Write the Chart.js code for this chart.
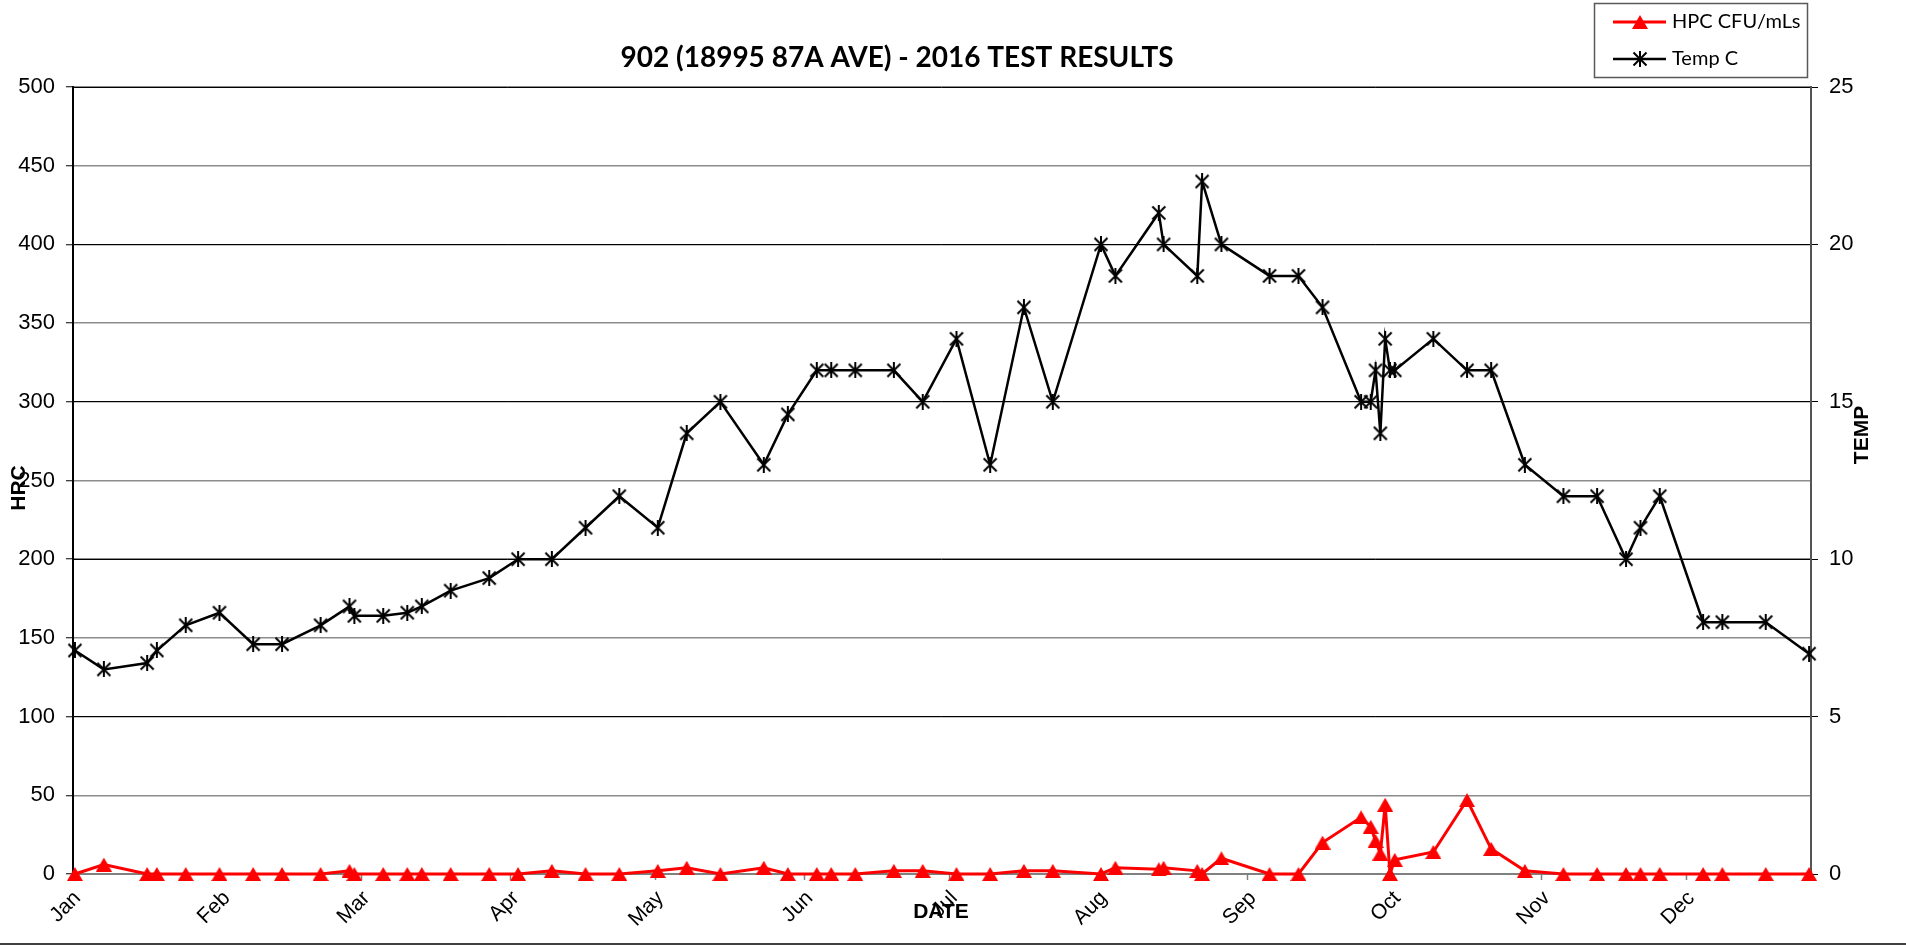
<!DOCTYPE html>
<html>
<head>
<meta charset="utf-8">
<script src="https://cdn.jsdelivr.net/npm/chart.js@4.4.0/dist/chart.umd.min.js"></script>
<style>
html,body{margin:0;padding:0;background:#fff;overflow:hidden}
canvas{display:block}
</style>
</head>
<body>
<canvas id="c" width="1906" height="948"></canvas>
<script>
// ---- data ----
const sampleDates = ['2016-01-01','2016-01-07','2016-01-16','2016-01-18','2016-01-24','2016-01-31','2016-02-07','2016-02-13','2016-02-21','2016-02-27',
  '2016-02-28','2016-03-05','2016-03-10','2016-03-13','2016-03-19','2016-03-27','2016-04-02','2016-04-09','2016-04-16','2016-04-23',
  '2016-05-01','2016-05-07','2016-05-14','2016-05-23','2016-05-28','2016-06-03','2016-06-06','2016-06-11','2016-06-19','2016-06-25',
  '2016-07-02','2016-07-09','2016-07-16','2016-07-22','2016-08-01','2016-08-04','2016-08-13','2016-08-14','2016-08-21','2016-08-22',
  '2016-08-26','2016-09-05','2016-09-11','2016-09-16','2016-09-24','2016-09-26','2016-09-27','2016-09-28','2016-09-29','2016-09-30',
  '2016-10-01','2016-10-09','2016-10-16','2016-10-21','2016-10-28','2016-11-05','2016-11-12','2016-11-18','2016-11-21','2016-11-25',
  '2016-12-04','2016-12-08','2016-12-17','2016-12-26'];
const hpcValues = [0,6,0,0,0,0,0,0,0,2, 0,0,0,0,0,0,0,2,0,0, 2,4,0,4,0,0,0,0,2,2, 0,0,2,2,0,4,3,4,2,0,
  10,0,0,20,36,30,21,13,44,0, 9,14,47,16,2,0,0,0,0,0, 0,0,0,0];
const tempValues = [7.1,6.5,6.7,7.1,7.9,8.3,7.3,7.3,7.9,8.5, 8.2,8.2,8.3,8.5,9.0,9.4,10,10,11,12,
  11,14,15,13,14.6,16,16,16,16,15, 17,13,18,15,20,19,21,20,19,22,
  20,19,19,18,15,15,16,14,17,16, 16,17,16,16,13,12,12,10,11,12, 8,8,8,7];
const monthStarts = ['2016-01-01','2016-02-01','2016-03-01','2016-04-01','2016-05-01','2016-06-01','2016-07-01','2016-08-01','2016-09-01','2016-10-01','2016-11-01','2016-12-01'];
const monthLabels = ['Jan','Feb','Mar','Apr','May','Jun','Jul','Aug','Sep','Oct','Nov','Dec'];
const seriesNames = ['HPC CFU/mLs','Temp C'];
const chartTitle = '902 (18995 87A AVE) - 2016 TEST RESULTS';
const axisTitles = {left:'HRC', right:'TEMP', bottom:'DATE'};

// ---- helpers ----
function dayOfYear(s){const p=s.split('-').map(Number);return (Date.UTC(p[0],p[1]-1,p[2])-Date.UTC(p[0],0,1))/86400000;}
const days = sampleDates.map(dayOfYear);
const hpcPoints = days.map((d,i)=>({x:d,y:hpcValues[i]}));
const tempPoints = days.map((d,i)=>({x:d,y:tempValues[i]}));

function makeTriangle(color,w,h){
  const c=document.createElement('canvas');c.width=w;c.height=h;
  const g=c.getContext('2d');g.fillStyle=color;
  g.beginPath();g.moveTo(w/2,0);g.lineTo(w,h);g.lineTo(0,h);g.closePath();g.fill();
  return c;
}
function makeStar(color,s,lw){
  const c=document.createElement('canvas');c.width=s;c.height=s;
  const g=c.getContext('2d');g.strokeStyle=color;g.lineWidth=lw;g.lineCap='butt';
  const p=1.5;
  g.beginPath();
  g.moveTo(p,p);g.lineTo(s-p,s-p);
  g.moveTo(s-p,p);g.lineTo(p,s-p);
  g.moveTo(s/2,0);g.lineTo(s/2,s);
  g.stroke();
  return c;
}
const triMarker = makeTriangle('#FF0000',16,14);
const starMarker = makeStar('#000000',16,2);

const RED='#FF0000', BLACK='#000000';
const tickFont = {family:"'Liberation Sans', Arial, sans-serif", size:21};
const yTickFont = {family:"'Liberation Sans', Arial, sans-serif", size:22};
const axisTitleFont = "bold 21px 'Liberation Sans Narrow', 'Arial Narrow', 'Liberation Sans', sans-serif";

const decor = {
  id:'decor',
  afterDraw(chart){
    const g=chart.ctx;
    g.save();
    // title
    g.fillStyle='#000';g.font="bold 28px Lato, 'Open Sans', sans-serif";
    g.textAlign='center';g.textBaseline='middle';
    g.fillText(chartTitle,897,58);
    // axis titles
    g.font=axisTitleFont;
    g.save();g.translate(19,488);g.rotate(-Math.PI/2);g.fillText(axisTitles.left,0,0);g.restore();
    g.save();g.translate(1862,435);g.rotate(-Math.PI/2);g.fillText(axisTitles.right,0,0);g.restore();
    g.fillText(axisTitles.bottom,941,912);
    // legend box
    g.strokeStyle='#595959';g.lineWidth=1.5;
    g.strokeRect(1594.5,3.5,213,74);
    const rows=[{y:22,color:RED,lw:3,img:triMarker,label:seriesNames[0]},{y:59,color:BLACK,lw:2.5,img:starMarker,label:seriesNames[1]}];
    g.font="20px Lato, 'Open Sans', sans-serif";g.textAlign='left';
    rows.forEach(r=>{
      g.strokeStyle=r.color;g.lineWidth=r.lw;
      g.beginPath();g.moveTo(1613,r.y);g.lineTo(1666,r.y);g.stroke();
      g.drawImage(r.img,1640-r.img.width/2,r.y-r.img.height/2);
      g.fillStyle='#000';g.fillText(r.label,1672,r.y);
    });
    // outer bottom frame line
    g.strokeStyle='#404040';g.lineWidth=2;
    g.beginPath();g.moveTo(0,944);g.lineTo(1906,944);g.stroke();
    g.restore();
  }
};

new Chart(document.getElementById('c'),{
  type:'line',
  data:{datasets:[
    {label:seriesNames[0],data:hpcPoints,yAxisID:'y',borderColor:RED,backgroundColor:RED,borderWidth:3,
     pointStyle:triMarker,tension:0,clip:false,order:1},
    {label:seriesNames[1],data:tempPoints,yAxisID:'y1',borderColor:BLACK,backgroundColor:BLACK,borderWidth:2.5,
     pointStyle:starMarker,tension:0,clip:false,order:2}
  ]},
  options:{
    responsive:false,animation:false,devicePixelRatio:1,events:[],
    layout:{padding:{left:0,right:0,top:87,bottom:0}},
    plugins:{legend:{display:false},title:{display:false},tooltip:{enabled:false}},
    scales:{
      x:{type:'linear',position:'bottom',
         min:days[0]-0.4,max:days[days.length-1]+0.4,
         afterBuildTicks(s){s.ticks=monthStarts.map(m=>({value:dayOfYear(m)-0.5}));},
         ticks:{autoSkip:false,minRotation:45,maxRotation:45,color:'#000',font:tickFont,padding:6,labelOffset:5,
                callback:(v,i)=>monthLabels[i]},
         grid:{drawOnChartArea:false,drawTicks:true,tickLength:6,tickColor:'#808080',tickWidth:1.5},
         border:{color:'#808080',width:2},
         afterFit(s){s.height=74;}},
      y:{position:'left',min:0,max:500,
         ticks:{stepSize:50,color:'#000',font:yTickFont,padding:11},
         grid:{color:'#8c8c8c',lineWidth:1.5,tickColor:'#000',tickWidth:1,tickLength:7},
         border:{color:'#000',width:2},
         afterFit(s){s.width=73;}},
      y1:{position:'right',min:0,max:25,
         ticks:{stepSize:5,color:'#000',font:yTickFont,padding:11},
         grid:{color:'#000',lineWidth:1,tickColor:'#000',tickWidth:1,tickLength:7},
         border:{color:'#555',width:2},
         afterFit(s){s.width=95;}}
    }
  },
  plugins:[decor]
});
</script>
</body>
</html>
